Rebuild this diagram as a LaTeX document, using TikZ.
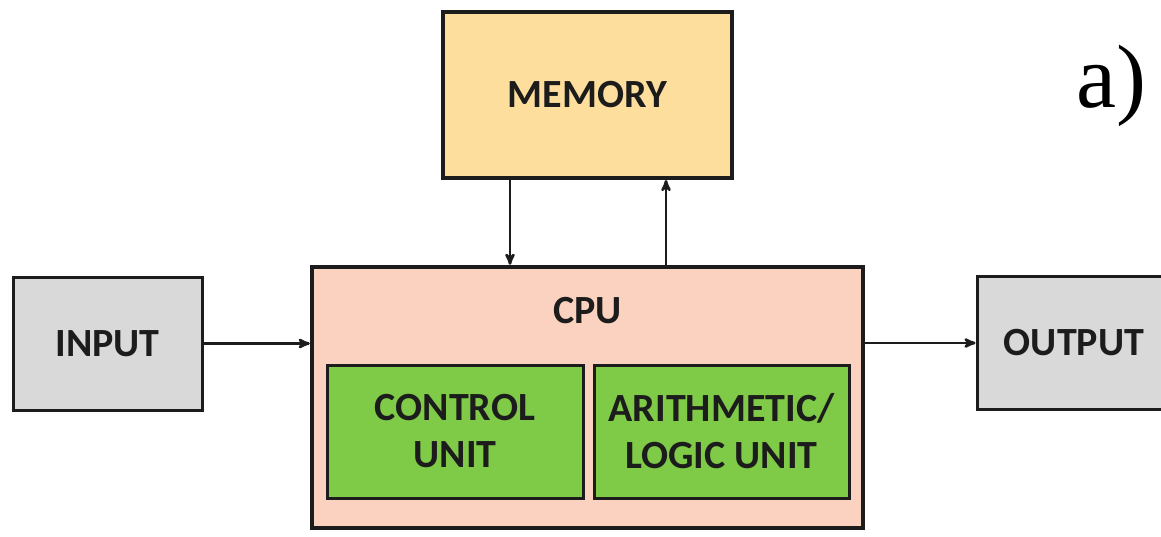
\documentclass[tikz,border=0pt]{standalone}
\usepackage{xcolor}
\usepackage{fontspec}
\newfontfamily\boxfont{Carlito}
\newfontfamily\tagfont{Liberation Serif}
\usepackage{tikz}
\usetikzlibrary{shapes}
\usetikzlibrary{arrows}
\definecolor{boxline}{HTML}{1C1C1C}
\definecolor{memfill}{HTML}{FEDE9C}
\definecolor{cpufill}{HTML}{FBD2BF}
\definecolor{unitfill}{HTML}{7FCA47}
\definecolor{iofill}{HTML}{D9D9D9}
\tikzset{
  main node/.style={rectangle,draw=boxline,line width=3pt,text=boxline,align=center,inner sep=0pt,
    font=\boxfont\bfseries\fontsize{40}{47}\selectfont},
  io node/.style={main node,fill=iofill,minimum width=189pt,minimum height=133pt},
  unit node/.style={main node,fill=unitfill,minimum width=256pt,minimum height=133pt},
  link/.style={->,>=stealth',line width=2.6pt,draw=boxline}
}

\begin{document}
\begin{tikzpicture}[x=1pt,y=-1pt]
  \clip (0,0) rectangle (1161,536);
  \node [main node,line width=4pt,fill=memfill,minimum width=289pt,minimum height=166pt] (mem) at (587.5,95) {MEMORY};
  \node [main node,line width=4.5pt,fill=cpufill,minimum width=551pt,minimum height=261pt] (cpu) at (587.5,397.5) {};
  \node [main node,draw=none] (cpulabel) at (587.5,311) {CPU};
  \node [unit node] (cu) at (455,431.5) {CONTROL\\UNIT};
  \node [unit node,minimum width=255pt] (alu) at (721.5,431.5) {ARITHMETIC/\\LOGIC UNIT};
  \node [io node] (in) at (107.5,343.5) {INPUT};
  \node [io node,minimum width=194pt] (out) at (1074,343) {OUTPUT};
  \node [font=\tagfont\fontsize{90}{90}\selectfont,anchor=base,inner sep=0pt] (tag) at (1111,107) {a)};
  % connectors
  \draw [link] (in.east) -- (in.east -| cpu.west);
  \draw [link] (out.west -| cpu.east) -- (out.west);
  \draw [link] ([xshift=-77.5pt]mem.south) -- ([xshift=-77.5pt]cpu.north);
  \draw [link] ([xshift=78.5pt]cpu.north) -- ([xshift=78.5pt]mem.south);
\end{tikzpicture}
\end{document}
